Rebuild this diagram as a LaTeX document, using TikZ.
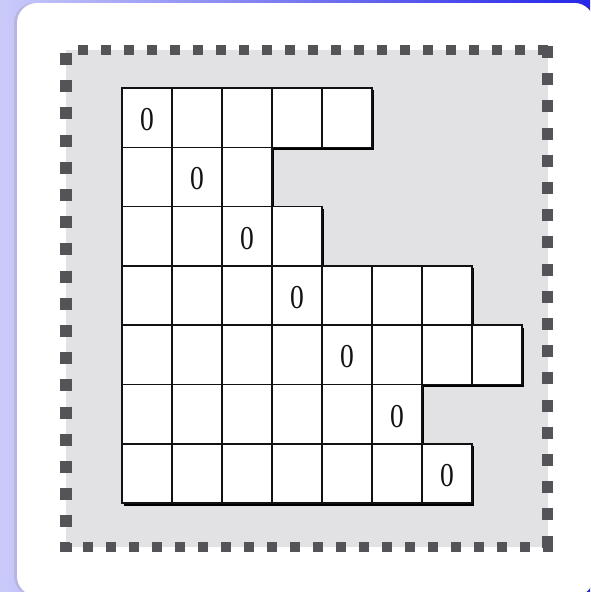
\documentclass[tikz,border=0pt]{standalone}
\usepackage{fontspec}
\usepackage{graphicx}
\setmainfont{Liberation Serif}
\usetikzlibrary{shadows}
\definecolor{bglav}{RGB}{202,202,250}
\definecolor{bgblue}{RGB}{38,38,232}
\definecolor{panelgrey}{RGB}{226,226,228}
\definecolor{dashgrey}{RGB}{84,84,88}
\definecolor{gridink}{RGB}{18,18,18}

\begin{document}
\begin{tikzpicture}[
  x=1pt, y=-1pt,
  cell/.style={draw=gridink, line width=1.5pt, fill=white, minimum width=50pt, minimum height=59.3pt,
    inner sep=0pt, outer sep=0pt,
    drop shadow={shadow xshift=2.4pt, shadow yshift=-2.4pt, fill=black, opacity=1}},
  zero/.style={font=\fontsize{29}{29}\selectfont, inner sep=0pt, text=gridink},
  hdash/.style={dashgrey, line width=10pt, dash pattern=on 10pt off 13pt},
  vdash/.style={dashgrey, line width=11.5pt, dash pattern=on 12pt off 15.2pt},
]
\useasboundingbox (0,0) rectangle (590,592);
% backdrop and card
\shade[left color=bglav, right color=bgblue] (0,0) rectangle (590,592);
\fill[bglav!75!gray, rounded corners=20pt] (14,3) rectangle (594,596);
\fill[white, rounded corners=20pt] (17,3) rectangle (594,596);

% grey panel with dashed frame
\fill[panelgrey] (66,50) rectangle (548,547);
\draw[hdash] (78,50) -- (553,50);
\draw[hdash] (60,547) -- (553,547);
\draw[vdash] (66,53) -- (66,552);
\draw[vdash] (547.5,46) -- (547.5,552);

% staircase of cells, row lengths top to bottom
\foreach \len [count=\r] in {5,3,4,7,8,6,7}
  \foreach \c in {1,...,\len}
    \node[cell] (c\r-\c) at ({122+50*(\c-0.5)}, {88+59.3*(\r-0.5)}) {};

% zeros on the diagonal
\foreach \r in {1,...,7}
  \node[zero] (z\r) at ([yshift=-2pt]c\r-\r.center) {\scalebox{0.95}[1.15]{0}};
\end{tikzpicture}
\end{document}
